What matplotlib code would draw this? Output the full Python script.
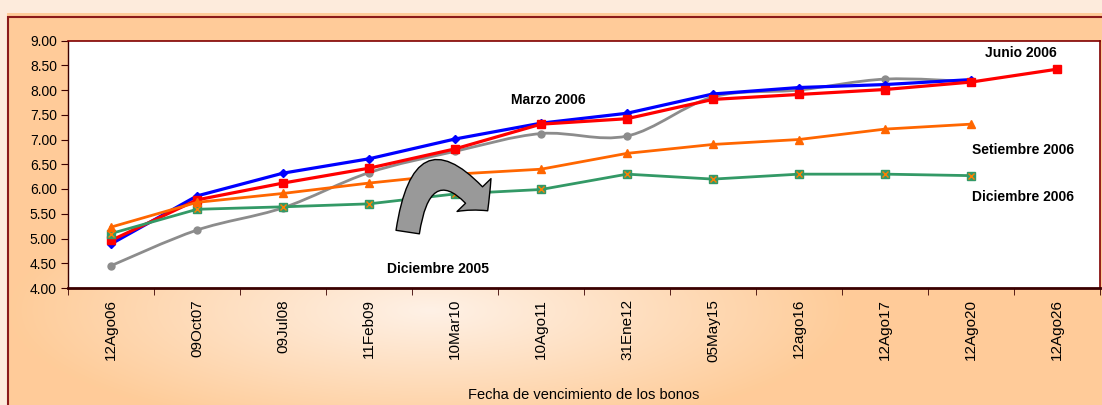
import matplotlib
matplotlib.use("Agg")
import matplotlib.pyplot as plt
import numpy as np
from matplotlib.patches import FancyArrowPatch, PathPatch, Rectangle
from matplotlib.path import Path

# =========================================================
# DATA
# =========================================================

fechas = [
    "12Ago06", "09Oct07", "09Jul08", "11Feb09", "10Mar10", "10Ago11",
    "31Ene12", "05May15", "12ago16", "12Ago17", "12Ago20", "12Ago26",
]

dic_2005 = [4.45, 5.17, 5.62, 6.33, 6.76, 7.12, 7.07, 7.86, 8.00, 8.22, 8.17, np.nan]
mar_2006 = [4.89, 5.86, 6.32, 6.61, 7.01, 7.33, 7.53, 7.92, 8.05, 8.11, 8.21, np.nan]
jun_2006 = [4.96, 5.78, 6.12, 6.42, 6.81, 7.31, 7.42, 7.81, 7.91, 8.01, 8.16, 8.42]
set_2006 = [5.23, 5.73, 5.91, 6.12, 6.30, 6.40, 6.72, 6.90, 7.00, 7.21, 7.31, np.nan]
dic_2006 = [5.10, 5.59, 5.64, 5.70, 5.90, 5.99, 6.30, 6.20, 6.30, 6.30, 6.27, np.nan]

x = np.arange(len(fechas))

# =========================================================
# FIGURE + BACKGROUND
# =========================================================

W, H = 1102, 405
fig = plt.figure(figsize=(W / 100, H / 100), dpi=100)
fig.patch.set_facecolor("#fdebdc")
plt.rcParams["font.family"] = ["Liberation Sans", "DejaVu Sans"]

box_left, box_top = 7, 13
bg = fig.add_axes([box_left / W, 0, 1 - box_left / W, (H - box_top) / H])
bg.set_axis_off()

gw, gh = W - box_left, H - box_top
gx, gy = np.meshgrid(np.arange(gw) + box_left, np.arange(gh) + box_top)
d = np.sqrt(((gx - 430) / 420.0) ** 2 + ((gy - 310) / 125.0) ** 2)
t = np.clip(d, 0, 1)[..., None]
light = np.array([254, 241, 230]) / 255.0
orange = np.array([255, 204, 153]) / 255.0
grad = light * (1 - t) + orange * t
bg.imshow(grad, aspect="auto", extent=[0, 1, 0, 1], origin="upper")
bg.set_xlim(0, 1)
bg.set_ylim(0, 1)
bg.add_patch(Rectangle((0.001, -0.01), 1.2, 1.0, transform=bg.transAxes,
                       fill=False, edgecolor="#8b1a1a", lw=1.5, clip_on=False))

# =========================================================
# PLOT AREA
# =========================================================

ax = fig.add_axes([68 / W, (H - 288) / H, 1032 / W, 247.5 / H])
ax.set_facecolor("white")

# smooth grey line (Excel style bezier through the points)
gy_vals = np.array(dic_2005)
mask = ~np.isnan(gy_vals)
pts = np.column_stack([x[mask], gy_vals[mask]])
verts = [tuple(pts[0])]
codes = [Path.MOVETO]
for i in range(len(pts) - 1):
    p0 = pts[i - 1] if i > 0 else pts[i]
    p1 = pts[i]
    p2 = pts[i + 1]
    p3 = pts[i + 2] if i + 2 < len(pts) else pts[i + 1]
    c1 = p1 + (p2 - p0) / 6.0
    c2 = p2 - (p3 - p1) / 6.0
    verts += [tuple(c1), tuple(c2), tuple(p2)]
    codes += [Path.CURVE4] * 3
ax.add_patch(PathPatch(Path(verts, codes), fill=False, edgecolor="#8c8c8c",
                       lw=2.0, zorder=2))
ax.plot(x, dic_2005, ls="none", marker="o", ms=5, color="#8c8c8c", zorder=2)

ax.plot(x, mar_2006, color="#0000ff", lw=2.3, marker="D", ms=4, zorder=3)
ax.plot(x, jun_2006, color="#ff0000", lw=2.3, marker="s", ms=6, zorder=4)
ax.plot(x, dic_2006, color="#339966", lw=2.0, marker="s", ms=6, zorder=5)
ax.plot(x, dic_2006, ls="none", marker="x", ms=4, mew=1, color="#ff8000", zorder=5)
ax.plot(x, set_2006, color="#ff6600", lw=2.0, marker="^", ms=6, zorder=6)

# curved arrow
arrow = FancyArrowPatch(
    (3.45, 5.13), (4.38, 5.56),
    connectionstyle="arc3,rad=-1.15",
    arrowstyle="simple,head_width=34,head_length=15,tail_width=17",
    mutation_scale=1, shrinkA=0, shrinkB=0,
    facecolor="#999999", edgecolor="black", lw=1.0, zorder=7,
)
ax.add_patch(arrow)

# labels
lbl = dict(fontsize=10, fontweight="bold", ha="center", va="center", zorder=8)
ax.text(5.08, 7.80, "Marzo 2006", **lbl)
ax.text(10.58, 8.75, "Junio 2006", **lbl)
ax.text(10.60, 6.79, "Setiembre 2006", **lbl)
ax.text(10.60, 5.84, "Diciembre 2006", **lbl)
ax.text(3.80, 4.38, "Diciembre 2005", **lbl)

# =========================================================
# AXES
# =========================================================

ax.set_xlim(-0.5, len(fechas) - 0.5)
ax.set_ylim(4.0, 9.0)
ax.set_yticks(np.arange(4.0, 9.01, 0.5))
ax.set_yticklabels([f"{v:.2f}" for v in np.arange(4.0, 9.01, 0.5)], fontsize=10)
ax.set_xticks(x)
ax.set_xticklabels(fechas, rotation=90, fontsize=11)
ax.set_xticks(np.arange(-0.5, len(fechas)), minor=True)
ax.tick_params(axis="x", which="major", length=0, pad=8)
ax.tick_params(axis="x", which="minor", length=5, color="#3a0000", direction="out")
ax.tick_params(axis="y", length=5, color="#3a0000", pad=3)

for side in ["top", "right"]:
    ax.spines[side].set_color("#800000")
    ax.spines[side].set_linewidth(1.2)
ax.spines["left"].set_color("#3a0000")
ax.spines["left"].set_linewidth(1.0)
ax.spines["bottom"].set_color("#3a0000")
ax.spines["bottom"].set_linewidth(2.0)

fig.text((68 + 1100) / 2 / W, 1 - 395 / H, "Fecha de vencimiento de los bonos",
         ha="center", va="center", fontsize=10.5)

fig.savefig("out.png", dpi=100)
